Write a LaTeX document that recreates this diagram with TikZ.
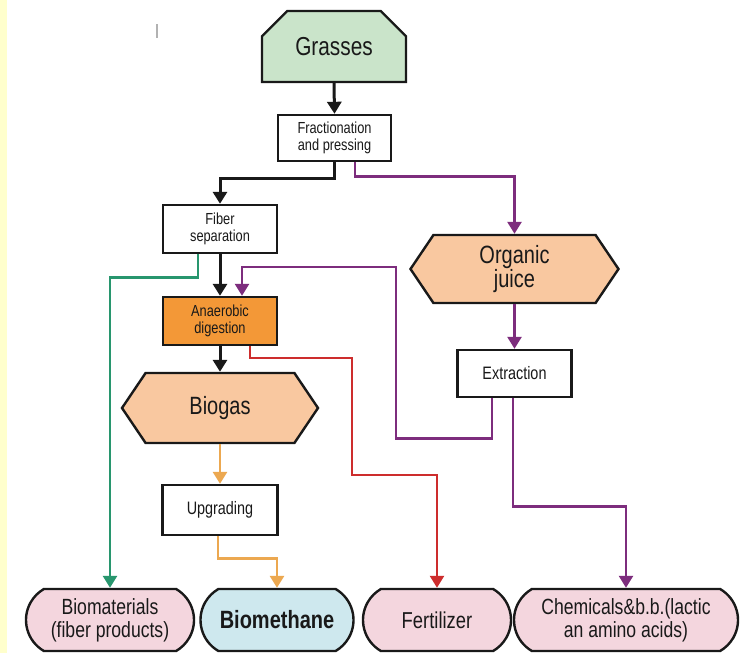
\documentclass[tikz,border=0pt]{standalone}
\usepackage{fontspec}
\setmainfont{Liberation Sans}[FakeStretch=0.8]
\usetikzlibrary{shapes.misc,shapes.symbols,arrows.meta}

\definecolor{stripyellow}{RGB}{255,255,204}
\definecolor{grassgreen}{RGB}{202,228,202}
\definecolor{peach}{RGB}{249,200,160}
\definecolor{digorange}{RGB}{243,152,55}
\definecolor{pillpink}{RGB}{244,214,222}
\definecolor{pillblue}{RGB}{206,232,238}
\definecolor{lngreen}{RGB}{40,150,110}
\definecolor{lnpurple}{RGB}{125,45,125}
\definecolor{lnred}{RGB}{205,45,45}
\definecolor{lnorange}{RGB}{236,168,80}
\definecolor{inkdark}{RGB}{25,25,25}

\tikzset{
  box/.style={draw=inkdark, line width=2.4pt, rectangle, fill=white, inner sep=0pt,
              align=center, font=\fontsize{16}{17}\selectfont, text=inkdark},
  hexa/.style={draw=inkdark, line width=2.4pt, signal, signal to=west and east,
               signal pointer angle=112, fill=peach, inner sep=0pt, align=center,
               font=\fontsize{25}{24}\selectfont, text=inkdark},
  pill/.style={draw=inkdark, line width=2.4pt, rounded rectangle, rounded rectangle arc length=120,
               minimum height=62pt, inner sep=0pt, align=center,
               font=\fontsize{22}{23}\selectfont, text=inkdark},
  tip/.style={-{Triangle[width=14pt,length=12pt]}},
  blk/.style={tip, draw=inkdark, line width=3pt},
  pur/.style={tip, draw=lnpurple, line width=2.6pt},
  grn/.style={tip, draw=lngreen, line width=2.6pt},
  rdl/.style={tip, draw=lnred, line width=2.4pt},
  org/.style={tip, draw=lnorange, line width=2.8pt},
}

\begin{document}
\begin{tikzpicture}[x=1pt, y=-1pt]
  % page area and left margin strip
  \useasboundingbox (0,0) rectangle (740,653);
  \fill[white] (0,0) rectangle (740,653);
  \fill[stripyellow] (0,0) rectangle (7,653);
  \draw[gray!60, line width=1.2pt] (157,24) -- (157,38);

  % process nodes
  \node[draw=inkdark, line width=2.4pt, chamfered rectangle,
        chamfered rectangle corners={north west,north east},
        chamfered rectangle xsep=16pt, chamfered rectangle ysep=16pt,
        fill=grassgreen, minimum width=144pt, minimum height=71pt, inner sep=0pt,
        font=\fontsize{26}{26}\selectfont, text=inkdark] (grass) at (334,46.5) {Grasses};
  \node[box, minimum width=113pt, minimum height=46pt] (frac) at (334.5,138)
        {Fractionation\\and pressing};
  \node[box, minimum width=114pt, minimum height=48pt] (fiber) at (220,229)
        {Fiber\\separation};
  \node[hexa, minimum width=208pt, minimum height=68pt] (juice) at (514.5,269)
        {Organic\\juice};
  \node[box, fill=digorange, minimum width=114pt, minimum height=48pt] (anaer) at (220,321)
        {Anaerobic\\digestion};
  \node[box, minimum width=114pt, minimum height=47pt, font=\fontsize{18}{18}\selectfont]
        (extr) at (514.5,373.5) {Extraction};
  \node[hexa, minimum width=196pt, minimum height=70pt] (biogas) at (220,408) {Biogas};
  \node[box, minimum width=115pt, minimum height=50pt, font=\fontsize{18}{18}\selectfont]
        (upg) at (220,510) {Upgrading};

  % products
  \node[pill, fill=pillpink, minimum width=168pt] (biomat) at (110,620)
        {Biomaterials\\(fiber products)};
  \node[pill, fill=pillblue, minimum width=153pt, font=\fontsize{25}{25}\bfseries\selectfont]
        (biometh) at (277,620) {Biomethane};
  \node[pill, fill=pillpink, minimum width=148pt, font=\fontsize{23}{23}\selectfont]
        (fert) at (437,620) {Fertilizer};
  \node[pill, fill=pillpink, minimum width=224pt] (chem) at (626,620)
        {Chemicals\&b.b.(lactic\\an amino acids)};

  % main line
  \draw[blk] (grass.south) -- (frac.north);
  \draw[blk] (frac.south) -- ++(0,16) -| (fiber.north);
  \draw[blk] (fiber.south) -- (anaer.north);
  \draw[blk] (anaer.south) -- (biogas.north);

  % juice branch
  \draw[pur] (355,0 |- frac.south) -- ++(0,14) -| (juice.north);
  \draw[pur] (juice.south) -- (extr.north);
  \draw[pur] (492,0 |- extr.south) -- ++(0,40) -| (396,267) -| (242,0 |- anaer.north);
  \draw[pur] (513,0 |- extr.south) -- ++(0,108) -| (chem.north);

  % fibers, digestate and gas
  \draw[grn] (198,0 |- fiber.south) -- ++(0,23) -| (biomat.north);
  \draw[rdl] (250,0 |- anaer.south) -- ++(0,12) -| (352,475) -| (fert.north);
  \draw[org] (biogas.south) -- (upg.north);
  \draw[org] (218,0 |- upg.south) -- ++(0,22) -| (biometh.north);
\end{tikzpicture}
\end{document}
